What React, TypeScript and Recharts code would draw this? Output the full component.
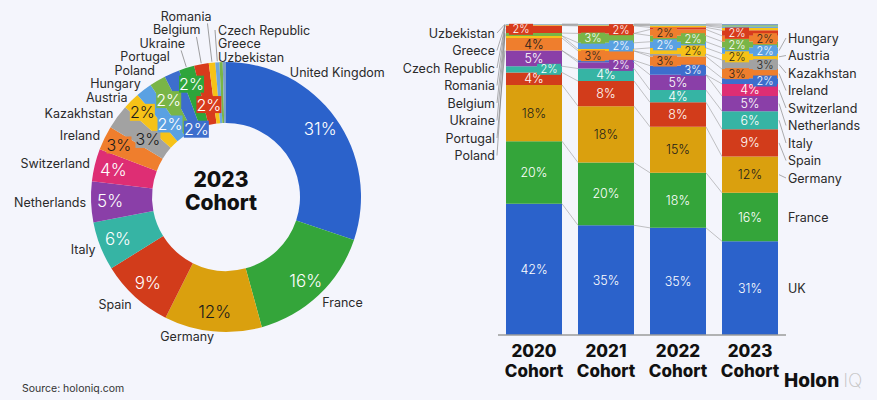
import React from 'react'
import { PieChart, Pie, Cell, BarChart, Bar, XAxis, YAxis } from 'recharts'

// ---- data ----
const countries = [
  'United Kingdom', 'France', 'Germany', 'Spain', 'Italy', 'Netherlands', 'Switzerland',
  'Ireland', 'Kazakhstan', 'Austria', 'Hungary', 'Poland', 'Portugal', 'Ukraine',
  'Belgium', 'Romania', 'Czech Republic', 'Greece', 'Uzbekistan',
]
const cohorts = ['2020', '2021', '2022', '2023']

// share of cohort (%), same order as countries
const share2020 = [42, 20, 18, 4, 2, 5, 0, 4, 0, 0.7, 0, 0.9, 0, 0, 2.4, 0.15, 0.1, 0.1, 0.15]
const share2021 = [35, 20, 18, 8, 4, 2, 0, 3, 0, 0.6, 2, 3, 0.6, 0, 2.4, 0.2, 0.1, 0.1, 0.2]
const share2022 = [35, 18, 15, 8, 4, 5, 0, 3, 0.8, 2, 2, 2, 3, 2, 0.7, 0.5, 0.2, 0.2, 0.2]
const share2023 = [31, 16, 12, 9, 6, 5, 4, 3, 3, 2.1, 2, 2, 1.9, 1.9, 1.8, 0.8, 0.5, 0.4, 0.4]
const sharesByCohort = [share2020, share2021, share2022, share2023]

// bottom -> top order of the stacked bars
const stackOrder = [
  'United Kingdom', 'France', 'Germany', 'Spain', 'Italy', 'Netherlands', 'Switzerland',
  'Portugal', 'Ireland', 'Kazakhstan', 'Austria', 'Hungary', 'Poland', 'Ukraine',
  'Belgium', 'Romania', 'Czech Republic', 'Greece', 'Uzbekistan',
]
const leftNames = ['Uzbekistan', 'Greece', 'Czech Republic', 'Romania', 'Belgium', 'Ukraine', 'Portugal', 'Poland']
const rightNames = ['Hungary', 'Austria', 'Kazakhstan', 'Ireland', 'Switzerland', 'Netherlands', 'Italy', 'Spain', 'Germany']
const rightCentered = ['France', 'United Kingdom']
const shortName: Record<string, string> = { 'United Kingdom': 'UK' }

// ---- styles ----
const FONT = "Inter, 'Noto Sans', sans-serif"
const BG = '#f4f5fc'
const colors: Record<string, string> = {
  'United Kingdom': '#2b62cb',
  France: '#34a53a',
  Germany: '#daa00e',
  Spain: '#d23c1b',
  Italy: '#36b4a4',
  Netherlands: '#8a3fa8',
  Switzerland: '#de2e74',
  Ireland: '#ef7e2d',
  Kazakhstan: '#a2a2a2',
  Austria: '#f6c218',
  Hungary: '#5aa1e2',
  Poland: '#79b547',
  Portugal: '#3d6ecd',
  Ukraine: '#2fa53b',
  Belgium: '#d83b1c',
  Romania: '#f6c218',
  'Czech Republic': '#6fa6dc',
  Greece: '#79b547',
  Uzbekistan: '#7d9fc9',
}
const barColorOverride: Record<string, string> = { Ukraine: '#ef7e2d' }
const barColor = (n: string) => barColorOverride[n] ?? colors[n]
const darkText = new Set(['Germany', 'Ireland', 'Kazakhstan', 'Austria', 'Romania'])
const textOn = (n: string, bar: boolean) =>
  darkText.has(n) || (bar && n === 'Ukraine') ? '#1b1b1b' : '#ffffff'

// ---- donut geometry ----
const RAD = Math.PI / 180
const PIE_CX = 221
const PIE_CY = 192
const R_IN = 74
const R_OUT = 135
const NAME_R = 140
const SPACING = 13.5
const PCT_R = 116
const labelAt: Record<string, number> = { 'United Kingdom': 0.25, Germany: 0.75 }
const rightTop = ['Czech Republic', 'Greece', 'Uzbekistan']
// radius of the boxed labels on the thin slices (staggered so they don't collide)
const boxRadius: Record<string, number> = {
  Ireland: 119, Kazakhstan: 97, Austria: 119, Hungary: 92, Poland: 113, Portugal: 74, Ukraine: 118, Belgium: 94,
}

const pieData = countries.map((name, i) => ({ name, value: share2023[i] }))
const pieTotal = share2023.reduce((a, b) => a + b, 0)
const sliceStart: number[] = []
const sliceSpan: number[] = []
share2023.reduce((acc, v) => {
  sliceStart.push((acc / pieTotal) * 360)
  sliceSpan.push((v / pieTotal) * 360)
  return acc + v
}, 0)

type NamePos = { x: number; y: number; natY: number; anchor: 'start' | 'end' | 'middle' }
const namePos: NamePos[] = countries.map((name, i) => {
  const a = (sliceStart[i] + (labelAt[name] ?? 0.5) * sliceSpan[i]) * RAD
  const s = Math.sin(a)
  const c = Math.cos(a)
  const y = -NAME_R * c + (c < 0 ? -c * 5 : 0)
  let anchor: NamePos['anchor'] = s >= 0 ? 'start' : 'end'
  if (c < 0 && Math.abs(s) < 0.3) anchor = 'middle'
  return { x: NAME_R * s, y, natY: y, anchor }
})
// crowded upper-left labels are stacked upwards
for (let i = countries.indexOf('Switzerland'); i <= countries.indexOf('Romania'); i++) {
  namePos[i].y = Math.min(namePos[i].y, namePos[i - 1].y - SPACING)
  namePos[i].anchor = 'end'
}
// the last thin slices get their names to the right of the top
for (let k = rightTop.length - 1; k >= 0; k--) {
  const i = countries.indexOf(rightTop[k])
  namePos[i].anchor = 'start'
  namePos[i].x = -8
  if (k < rightTop.length - 1) {
    const below = namePos[countries.indexOf(rightTop[k + 1])]
    namePos[i].y = Math.min(namePos[i].y, below.y - SPACING)
  }
}

function renderPieLabel(props: any) {
  const i: number = props.index
  const cx = props.cx ?? PIE_CX
  const cy = props.cy ?? PIE_CY
  const name = countries[i]
  const v = share2023[i]
  const p = namePos[i]
  const mid = (sliceStart[i] + sliceSpan[i] / 2) * RAD
  const parts: React.ReactNode[] = []
  parts.push(
    <text key="n" x={cx + p.x} y={cy + p.y} textAnchor={p.anchor} dominantBaseline="central"
      fontSize={12.5} fill="#2a2a2a" fontFamily={FONT}>
      {name}
    </text>,
  )
  if (p.natY - p.y > 15) {
    const ex = cx + (R_OUT + 1) * Math.sin(mid)
    const ey = cy - (R_OUT + 1) * Math.cos(mid)
    const sx = p.anchor === 'end' ? cx + p.x - 4 : cx + p.x - 3
    const sy = p.anchor === 'end' ? cy + p.y + 7 : cy + p.y
    parts.push(<line key="l" x1={sx} y1={sy} x2={ex} y2={ey} stroke="#777" strokeWidth={0.7} />)
  }
  if (v >= 1.5) {
    const small = v < 3.5
    const r = small ? boxRadius[name] ?? PCT_R : PCT_R
    const tx = cx + r * Math.sin(mid)
    const ty = cy - r * Math.cos(mid)
    if (small) {
      parts.push(<rect key="b" x={tx - 12.5} y={ty - 8.5} width={25} height={17} fill={colors[name]} />)
    }
    parts.push(
      <text key="p" x={tx} y={ty} textAnchor="middle" dominantBaseline="central" fontSize={small ? 16 : 17}
        fontWeight={300} fill={textOn(name, false)} fontFamily={FONT}>
        {`${Math.round(v)}%`}
      </text>,
    )
  }
  return <g>{parts}</g>
}

// ---- stacked bars ----
const BAR_LEFT = 395
const BAR_W = 482
const BAR_MARGIN = { top: 24, right: 91, bottom: 15, left: 103 }
const PITCH = (BAR_W - BAR_MARGIN.left - BAR_MARGIN.right) / cohorts.length

const barData = cohorts.map((cohort, i) => {
  const row: Record<string, number | string> = { cohort }
  countries.forEach((c, k) => { row[c] = sharesByCohort[i][k] })
  return row
})

function segmentsFor(i: number) {
  const shares = sharesByCohort[i]
  const total = shares.reduce((a, b) => a + b, 0)
  let cum = 0
  return stackOrder.map((name) => {
    const v = shares[countries.indexOf(name)]
    const lo = cum / total
    cum += v
    return { name, value: v, lo, hi: cum / total }
  })
}

// shape of the top series: draws its own rect plus labels and connectors above all bars
function OverlayShape(props: any) {
  const { x, y, width, height, index } = props
  const segs = segmentsFor(index)
  const top = segs[segs.length - 1]
  const bg = props.background
  const useBg = bg && bg.height > 0
  const plotTop = useBg ? bg.y : y
  const plotH = useBg ? bg.height : height / (top.hi - top.lo)
  const py = (f: number) => plotTop + plotH * (1 - f)
  const out: React.ReactNode[] = []
  out.push(<rect key="r" x={x} y={y} width={width} height={height} fill={props.fill} />)

  if (index < cohorts.length - 1) {
    const next = segmentsFor(index + 1)
    segs.forEach((s, k) => {
      if (s.value <= 0 && next[k].value <= 0) return
      out.push(
        <line key={`c${k}`} x1={x + width} y1={py(s.hi)} x2={x + PITCH} y2={py(next[k].hi)}
          stroke="#9a9a9a" strokeWidth={0.6} />,
      )
    })
  }

  let k = 0
  segs.forEach((s) => {
    if (s.value < 1.5) return
    const my = py((s.lo + s.hi) / 2)
    const txt = `${Math.round(s.value)}%`
    const tc = textOn(s.name, true)
    if (s.value >= 3.5) {
      out.push(
        <text key={`v${s.name}`} x={x + width / 2} y={my} textAnchor="middle" dominantBaseline="central"
          fontSize={12.5} fontWeight={300} fill={tc} fontFamily={FONT}>{txt}</text>,
      )
    } else {
      const bx = k % 2 === 0 ? x + width - 13 : x + 15
      k++
      out.push(<rect key={`b${s.name}`} x={bx - 12} y={my - 5.5} width={24} height={11} fill={barColor(s.name)} />)
      out.push(
        <text key={`v${s.name}`} x={bx} y={my} textAnchor="middle" dominantBaseline="central"
          fontSize={11} fontWeight={300} fill={tc} fontFamily={FONT}>{txt}</text>,
      )
    }
  })

  const segY = (name: string) => {
    const s = segs.find((g) => g.name === name)!
    return py((s.lo + s.hi) / 2)
  }
  if (index === 0) {
    leftNames.forEach((name, j) => {
      const ly = plotTop + 9 + j * 17.5
      out.push(
        <line key={`ll${name}`} x1={x - 9} y1={ly} x2={x - 1} y2={segY(name)} stroke="#777" strokeWidth={0.6} />,
      )
      out.push(
        <text key={`ln${name}`} x={x - 11} y={ly} textAnchor="end" dominantBaseline="central"
          fontSize={12.5} fill="#2a2a2a" fontFamily={FONT}>{name}</text>,
      )
    })
  }
  if (index === cohorts.length - 1) {
    rightNames.forEach((name, j) => {
      const ly = plotTop + 14 + j * 17.5
      out.push(
        <line key={`rl${name}`} x1={x + width + 1} y1={segY(name)} x2={x + width + 8} y2={ly}
          stroke="#777" strokeWidth={0.6} />,
      )
      out.push(
        <text key={`rn${name}`} x={x + width + 10} y={ly} dominantBaseline="central"
          fontSize={12.5} fill="#2a2a2a" fontFamily={FONT}>{name}</text>,
      )
    })
    rightCentered.forEach((name) => {
      out.push(
        <text key={`rc${name}`} x={x + width + 10} y={segY(name)} dominantBaseline="central"
          fontSize={12.5} fill="#2a2a2a" fontFamily={FONT}>{shortName[name] ?? name}</text>,
      )
    })
  }
  return <g>{out}</g>
}

function CohortTick(props: any) {
  const { x, y, payload } = props
  return (
    <g>
      <text x={x} y={y + 14} textAnchor="middle" fontSize={17} fontWeight={800} fill="#111" fontFamily={FONT}>
        {payload.value}
      </text>
      <text x={x} y={y + 34} textAnchor="middle" fontSize={17} fontWeight={800} fill="#111" fontFamily={FONT}>
        Cohort
      </text>
    </g>
  )
}

export default function App() {
  return (
    <div style={{ position: 'absolute', left: 0, top: 0, width: 877, height: 400, background: BG, overflow: 'hidden', fontFamily: FONT }}>
      <div style={{ position: 'absolute', left: 0, top: 0 }}>
        <PieChart width={440} height={400}>
          <Pie data={pieData} dataKey="value" nameKey="name" cx={PIE_CX} cy={PIE_CY}
            innerRadius={R_IN} outerRadius={R_OUT} startAngle={90} endAngle={-270}
            stroke="none" label={renderPieLabel} labelLine={false} isAnimationActive={false}>
            {pieData.map((d) => <Cell key={d.name} fill={colors[d.name]} />)}
          </Pie>
        </PieChart>
      </div>
      <div style={{ position: 'absolute', left: BAR_LEFT, top: 0 }}>
        <BarChart width={BAR_W} height={400} data={barData} stackOffset="expand" margin={BAR_MARGIN} barSize={56}>
          <XAxis dataKey="cohort" interval={0} height={50} tickLine={false}
            axisLine={{ stroke: '#9b9b9b', strokeWidth: 1.5 }} tick={<CohortTick />} />
          <YAxis hide domain={[0, 1]} />
          {stackOrder.map((name, k) => (
            <Bar key={name} dataKey={name} stackId="a" fill={barColor(name)} isAnimationActive={false}
              shape={k === stackOrder.length - 1 ? OverlayShape : undefined} />
          ))}
        </BarChart>
      </div>
      <div style={{ position: 'absolute', left: PIE_CX - 60, width: 120, top: 168, textAlign: 'center', fontSize: 21, fontWeight: 800, lineHeight: '23px', color: '#111' }}>
        2023<br />Cohort
      </div>
      <div style={{ position: 'absolute', left: 22, top: 382, fontSize: 10.5, color: '#333' }}>Source: holoniq.com</div>
      <div style={{ position: 'absolute', left: 784, top: 369, fontSize: 19, lineHeight: '24px', whiteSpace: 'nowrap' }}>
        <span style={{ fontWeight: 800, color: '#111' }}>Holon</span>
        <span style={{ fontWeight: 200, color: '#c4c4c4', marginLeft: 4 }}>IQ</span>
      </div>
    </div>
  )
}
